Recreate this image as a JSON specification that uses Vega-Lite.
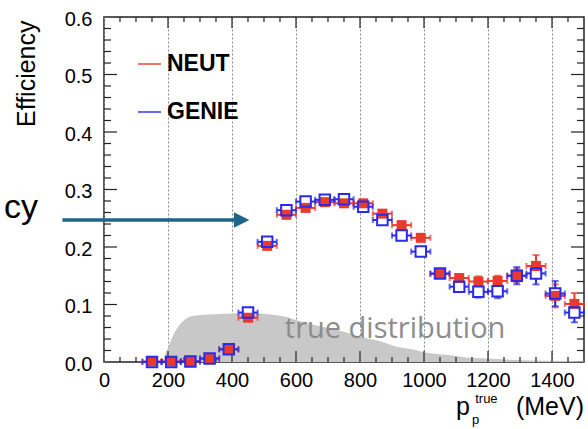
{
  "$schema": "https://vega.github.io/schema/vega-lite/v6.json",
  "width": 480,
  "height": 345,
  "autosize": {"type": "none"},
  "padding": {"left": 104, "top": 17, "right": 4, "bottom": 67},
  "background": "white",
  "config": {
    "view": {"stroke": "#222222", "strokeWidth": 1.5},
    "font": "Liberation Sans",
    "axis": {"labelColor": "black", "labelFont": "Liberation Sans"},
    "legend": {
      "orient": "none", "legendX": 33, "legendY": 34.5, "padding": 0,
      "symbolType": "stroke", "symbolSize": 529, "symbolStrokeWidth": 2,
      "labelFontSize": 23, "labelFontWeight": "bold", "labelColor": "black",
      "labelFont": "Liberation Sans", "labelOffset": 5, "rowPadding": 23
    }
  },
  "resolve": {
    "scale": {"x": "shared", "y": "shared", "color": "shared"},
    "axis": {"x": "independent", "y": "independent"}
  },
  "datasets": {
    "one": [{}],
    "xmaj": [{"v": 200}, {"v": 400}, {"v": 600}, {"v": 800}, {"v": 1000}, {"v": 1200}, {"v": 1400}],
    "xmin": [{"v": 50}, {"v": 100}, {"v": 150}, {"v": 250}, {"v": 300}, {"v": 350}, {"v": 450}, {"v": 500}, {"v": 550}, {"v": 650}, {"v": 700}, {"v": 750}, {"v": 850}, {"v": 900}, {"v": 950}, {"v": 1050}, {"v": 1100}, {"v": 1150}, {"v": 1250}, {"v": 1300}, {"v": 1350}, {"v": 1450}],
    "ymaj": [{"v": 0.1}, {"v": 0.2}, {"v": 0.3}, {"v": 0.4}, {"v": 0.5}],
    "ymin": [{"v": 0.02}, {"v": 0.04}, {"v": 0.06}, {"v": 0.08}, {"v": 0.12}, {"v": 0.14}, {"v": 0.16}, {"v": 0.18}, {"v": 0.22}, {"v": 0.24}, {"v": 0.26}, {"v": 0.28}, {"v": 0.32}, {"v": 0.34}, {"v": 0.36}, {"v": 0.38}, {"v": 0.42}, {"v": 0.44}, {"v": 0.46}, {"v": 0.48}, {"v": 0.52}, {"v": 0.54}, {"v": 0.56}, {"v": 0.58}],
    "truth": [
      {"p": 182, "n": 0}, {"p": 190, "n": 0.012}, {"p": 200, "n": 0.025}, {"p": 214, "n": 0.044},
      {"p": 230, "n": 0.06}, {"p": 245, "n": 0.07}, {"p": 276, "n": 0.08}, {"p": 349, "n": 0.083},
      {"p": 453, "n": 0.085}, {"p": 557, "n": 0.08}, {"p": 600, "n": 0.073}, {"p": 662, "n": 0.064},
      {"p": 703, "n": 0.059}, {"p": 766, "n": 0.05}, {"p": 806, "n": 0.043}, {"p": 870, "n": 0.035},
      {"p": 912, "n": 0.027}, {"p": 974, "n": 0.021}, {"p": 1000, "n": 0.017}, {"p": 1078, "n": 0.012},
      {"p": 1131, "n": 0.008}, {"p": 1182, "n": 0.0064}, {"p": 1287, "n": 0.0035}, {"p": 1391, "n": 0.002},
      {"p": 1500, "n": 0.001}
    ],
    "eff": [
      {"model": "NEUT", "x": 150, "lo": 120, "hi": 180, "e": 0.001, "elo": 0, "ehi": 0.003},
      {"model": "NEUT", "x": 210, "lo": 180, "hi": 240, "e": 0.001, "elo": 0, "ehi": 0.003},
      {"model": "NEUT", "x": 270, "lo": 240, "hi": 300, "e": 0.001, "elo": 0, "ehi": 0.003},
      {"model": "NEUT", "x": 330, "lo": 300, "hi": 360, "e": 0.006, "elo": 0.004, "ehi": 0.008},
      {"model": "NEUT", "x": 390, "lo": 360, "hi": 420, "e": 0.022, "elo": 0.019, "ehi": 0.025},
      {"model": "NEUT", "x": 450, "lo": 420, "hi": 480, "e": 0.077, "elo": 0.073, "ehi": 0.081},
      {"model": "NEUT", "x": 510, "lo": 480, "hi": 540, "e": 0.202, "elo": 0.197, "ehi": 0.207},
      {"model": "NEUT", "x": 570, "lo": 540, "hi": 600, "e": 0.256, "elo": 0.251, "ehi": 0.261},
      {"model": "NEUT", "x": 630, "lo": 600, "hi": 660, "e": 0.268, "elo": 0.263, "ehi": 0.273},
      {"model": "NEUT", "x": 690, "lo": 660, "hi": 720, "e": 0.278, "elo": 0.273, "ehi": 0.283},
      {"model": "NEUT", "x": 750, "lo": 720, "hi": 780, "e": 0.276, "elo": 0.271, "ehi": 0.281},
      {"model": "NEUT", "x": 810, "lo": 780, "hi": 840, "e": 0.276, "elo": 0.271, "ehi": 0.281},
      {"model": "NEUT", "x": 870, "lo": 840, "hi": 900, "e": 0.258, "elo": 0.253, "ehi": 0.263},
      {"model": "NEUT", "x": 930, "lo": 900, "hi": 960, "e": 0.238, "elo": 0.232, "ehi": 0.244},
      {"model": "NEUT", "x": 990, "lo": 960, "hi": 1020, "e": 0.216, "elo": 0.21, "ehi": 0.222},
      {"model": "NEUT", "x": 1050, "lo": 1020, "hi": 1080, "e": 0.153, "elo": 0.147, "ehi": 0.159},
      {"model": "NEUT", "x": 1110, "lo": 1080, "hi": 1140, "e": 0.146, "elo": 0.139, "ehi": 0.153},
      {"model": "NEUT", "x": 1170, "lo": 1140, "hi": 1200, "e": 0.14, "elo": 0.131, "ehi": 0.149},
      {"model": "NEUT", "x": 1230, "lo": 1200, "hi": 1260, "e": 0.141, "elo": 0.132, "ehi": 0.15},
      {"model": "NEUT", "x": 1290, "lo": 1260, "hi": 1320, "e": 0.15, "elo": 0.138, "ehi": 0.162},
      {"model": "NEUT", "x": 1350, "lo": 1320, "hi": 1380, "e": 0.167, "elo": 0.148, "ehi": 0.186},
      {"model": "NEUT", "x": 1410, "lo": 1380, "hi": 1440, "e": 0.115, "elo": 0.095, "ehi": 0.135},
      {"model": "NEUT", "x": 1470, "lo": 1440, "hi": 1500, "e": 0.101, "elo": 0.082, "ehi": 0.12},
      {"model": "GENIE", "x": 150, "lo": 120, "hi": 180, "e": 0.0, "elo": 0, "ehi": 0.002},
      {"model": "GENIE", "x": 210, "lo": 180, "hi": 240, "e": 0.0, "elo": 0, "ehi": 0.002},
      {"model": "GENIE", "x": 270, "lo": 240, "hi": 300, "e": 0.001, "elo": 0, "ehi": 0.003},
      {"model": "GENIE", "x": 330, "lo": 300, "hi": 360, "e": 0.006, "elo": 0.004, "ehi": 0.008},
      {"model": "GENIE", "x": 390, "lo": 360, "hi": 420, "e": 0.022, "elo": 0.019, "ehi": 0.025},
      {"model": "GENIE", "x": 450, "lo": 420, "hi": 480, "e": 0.086, "elo": 0.082, "ehi": 0.09},
      {"model": "GENIE", "x": 510, "lo": 480, "hi": 540, "e": 0.209, "elo": 0.204, "ehi": 0.214},
      {"model": "GENIE", "x": 570, "lo": 540, "hi": 600, "e": 0.264, "elo": 0.259, "ehi": 0.269},
      {"model": "GENIE", "x": 630, "lo": 600, "hi": 660, "e": 0.279, "elo": 0.274, "ehi": 0.284},
      {"model": "GENIE", "x": 690, "lo": 660, "hi": 720, "e": 0.282, "elo": 0.277, "ehi": 0.287},
      {"model": "GENIE", "x": 750, "lo": 720, "hi": 780, "e": 0.283, "elo": 0.278, "ehi": 0.288},
      {"model": "GENIE", "x": 810, "lo": 780, "hi": 840, "e": 0.27, "elo": 0.265, "ehi": 0.275},
      {"model": "GENIE", "x": 870, "lo": 840, "hi": 900, "e": 0.247, "elo": 0.242, "ehi": 0.252},
      {"model": "GENIE", "x": 930, "lo": 900, "hi": 960, "e": 0.22, "elo": 0.214, "ehi": 0.226},
      {"model": "GENIE", "x": 990, "lo": 960, "hi": 1020, "e": 0.192, "elo": 0.186, "ehi": 0.198},
      {"model": "GENIE", "x": 1050, "lo": 1020, "hi": 1080, "e": 0.154, "elo": 0.147, "ehi": 0.161},
      {"model": "GENIE", "x": 1110, "lo": 1080, "hi": 1140, "e": 0.131, "elo": 0.122, "ehi": 0.14},
      {"model": "GENIE", "x": 1170, "lo": 1140, "hi": 1200, "e": 0.122, "elo": 0.112, "ehi": 0.132},
      {"model": "GENIE", "x": 1230, "lo": 1200, "hi": 1260, "e": 0.123, "elo": 0.111, "ehi": 0.135},
      {"model": "GENIE", "x": 1290, "lo": 1260, "hi": 1320, "e": 0.15, "elo": 0.135, "ehi": 0.165},
      {"model": "GENIE", "x": 1350, "lo": 1320, "hi": 1380, "e": 0.154, "elo": 0.135, "ehi": 0.173},
      {"model": "GENIE", "x": 1410, "lo": 1380, "hi": 1440, "e": 0.119, "elo": 0.097, "ehi": 0.141},
      {"model": "GENIE", "x": 1470, "lo": 1440, "hi": 1500, "e": 0.086, "elo": 0.069, "ehi": 0.103}
    ]
  },
  "layer": [
    {
      "data": {"name": "truth"},
      "mark": {"type": "area", "color": "#c8c8c8", "opacity": 1, "interpolate": "monotone"},
      "encoding": {
        "x": {"field": "p", "type": "quantitative", "scale": {"domain": [0, 1500], "nice": false, "zero": false},
          "axis": {"orient": "bottom", "values": [0, 200, 400, 600, 800, 1000, 1200, 1400], "format": "d", "title": null,
            "labelFontSize": 20, "labelPadding": 8, "labelFlush": false, "labelOverlap": false, "ticks": false,
            "domain": false, "grid": true, "gridDash": [2, 2], "gridColor": "#8a8a8a", "gridWidth": 1}},
        "y": {"field": "n", "type": "quantitative", "scale": {"domain": [0, 0.6], "nice": false, "zero": false},
          "axis": {"orient": "left", "values": [0, 0.1, 0.2, 0.3, 0.4, 0.5, 0.6], "format": ".1f",
            "title": "Efficiency", "titleFontSize": 25, "titleFontWeight": "normal", "titleColor": "black", "titleFont": "Liberation Sans",
            "titleAngle": 270, "titleAlign": "right", "titleBaseline": "alphabetic", "titleX": -70, "titleY": 3,
            "labelFontSize": 20, "labelPadding": 12, "labelOffset": 2, "labelFlush": false, "labelOverlap": false,
            "ticks": false, "grid": false, "domain": false}}
      }
    },
    {
      "data": {"name": "one"},
      "mark": {"type": "text", "text": "true distribution", "font": "Open Sans", "fontSize": 29, "color": "#8c8c8c", "align": "left", "baseline": "alphabetic", "clip": false},
      "encoding": {
        "x": {"datum": 565, "type": "quantitative", "axis": null},
        "y": {"datum": 0.0417, "type": "quantitative", "axis": null}
      }
    },
    {
      "data": {"name": "xmaj"},
      "mark": {"type": "tick", "orient": "vertical", "size": 11, "thickness": 1.2, "color": "#222222", "opacity": 1, "yOffset": -5.5},
      "encoding": {"x": {"field": "v", "type": "quantitative", "axis": null}, "y": {"datum": 0, "type": "quantitative", "axis": null}}
    },
    {
      "data": {"name": "xmaj"},
      "mark": {"type": "tick", "orient": "vertical", "size": 11, "thickness": 1.2, "color": "#222222", "opacity": 1, "yOffset": 5.5},
      "encoding": {"x": {"field": "v", "type": "quantitative", "axis": null}, "y": {"datum": 0.6, "type": "quantitative", "axis": null}}
    },
    {
      "data": {"name": "xmin"},
      "mark": {"type": "tick", "orient": "vertical", "size": 5, "thickness": 1.2, "color": "#222222", "opacity": 1, "yOffset": -2.5},
      "encoding": {"x": {"field": "v", "type": "quantitative", "axis": null}, "y": {"datum": 0, "type": "quantitative", "axis": null}}
    },
    {
      "data": {"name": "xmin"},
      "mark": {"type": "tick", "orient": "vertical", "size": 5, "thickness": 1.2, "color": "#222222", "opacity": 1, "yOffset": 2.5},
      "encoding": {"x": {"field": "v", "type": "quantitative", "axis": null}, "y": {"datum": 0.6, "type": "quantitative", "axis": null}}
    },
    {
      "data": {"name": "ymaj"},
      "mark": {"type": "tick", "orient": "horizontal", "size": 13, "thickness": 1.2, "color": "#222222", "opacity": 1, "xOffset": 6.5},
      "encoding": {"y": {"field": "v", "type": "quantitative", "axis": null}, "x": {"datum": 0, "type": "quantitative", "axis": null}}
    },
    {
      "data": {"name": "ymaj"},
      "mark": {"type": "tick", "orient": "horizontal", "size": 13, "thickness": 1.2, "color": "#222222", "opacity": 1, "xOffset": -6.5},
      "encoding": {"y": {"field": "v", "type": "quantitative", "axis": null}, "x": {"datum": 1500, "type": "quantitative", "axis": null}}
    },
    {
      "data": {"name": "ymin"},
      "mark": {"type": "tick", "orient": "horizontal", "size": 7, "thickness": 1.2, "color": "#222222", "opacity": 1, "xOffset": 3.5},
      "encoding": {"y": {"field": "v", "type": "quantitative", "axis": null}, "x": {"datum": 0, "type": "quantitative", "axis": null}}
    },
    {
      "data": {"name": "ymin"},
      "mark": {"type": "tick", "orient": "horizontal", "size": 7, "thickness": 1.2, "color": "#222222", "opacity": 1, "xOffset": -3.5},
      "encoding": {"y": {"field": "v", "type": "quantitative", "axis": null}, "x": {"datum": 1500, "type": "quantitative", "axis": null}}
    },
    {
      "data": {"name": "eff"},
      "transform": [{"filter": {"field": "model", "equal": "NEUT"}}],
      "mark": {"type": "errorbar", "thickness": 2, "ticks": {"size": 6}},
      "encoding": {
        "x": {"field": "lo", "type": "quantitative", "axis": null},
        "x2": {"field": "hi"},
        "y": {"field": "e", "type": "quantitative", "axis": null},
        "color": {"field": "model", "type": "nominal", "title": null, "scale": {"domain": ["NEUT", "GENIE"], "range": ["#ea3a2e", "#2a2ae8"]}}
      }
    },
    {
      "data": {"name": "eff"},
      "transform": [{"filter": {"field": "model", "equal": "NEUT"}}],
      "mark": {"type": "errorbar", "thickness": 2, "ticks": {"size": 7}},
      "encoding": {
        "x": {"field": "x", "type": "quantitative", "axis": null},
        "y": {"field": "elo", "type": "quantitative", "axis": null},
        "y2": {"field": "ehi"},
        "color": {"field": "model", "type": "nominal", "title": null}
      }
    },
    {
      "data": {"name": "eff"},
      "transform": [{"filter": {"field": "model", "equal": "GENIE"}}],
      "mark": {"type": "errorbar", "thickness": 2, "ticks": {"size": 6}},
      "encoding": {
        "x": {"field": "lo", "type": "quantitative", "axis": null},
        "x2": {"field": "hi"},
        "y": {"field": "e", "type": "quantitative", "axis": null},
        "color": {"field": "model", "type": "nominal", "title": null}
      }
    },
    {
      "data": {"name": "eff"},
      "transform": [{"filter": {"field": "model", "equal": "GENIE"}}],
      "mark": {"type": "errorbar", "thickness": 2, "ticks": {"size": 7}},
      "encoding": {
        "x": {"field": "x", "type": "quantitative", "axis": null},
        "y": {"field": "elo", "type": "quantitative", "axis": null},
        "y2": {"field": "ehi"},
        "color": {"field": "model", "type": "nominal", "title": null}
      }
    },
    {
      "data": {"name": "eff"},
      "transform": [{"filter": {"field": "model", "equal": "GENIE"}}],
      "mark": {"type": "point", "shape": "square", "filled": true, "size": 110, "color": "white", "opacity": 1},
      "encoding": {
        "x": {"field": "x", "type": "quantitative", "axis": null},
        "y": {"field": "e", "type": "quantitative", "axis": null}
      }
    },
    {
      "data": {"name": "eff"},
      "transform": [{"filter": {"field": "model", "equal": "NEUT"}}],
      "mark": {"type": "point", "shape": "square", "filled": true, "size": 100, "opacity": 1},
      "encoding": {
        "x": {"field": "x", "type": "quantitative", "axis": null},
        "y": {"field": "e", "type": "quantitative", "axis": null},
        "color": {"field": "model", "type": "nominal", "title": null}
      }
    },
    {
      "data": {"name": "eff"},
      "transform": [{"filter": {"field": "model", "equal": "GENIE"}}],
      "mark": {"type": "point", "shape": "square", "filled": false, "size": 110, "strokeWidth": 2, "opacity": 1},
      "encoding": {
        "x": {"field": "x", "type": "quantitative", "axis": null},
        "y": {"field": "e", "type": "quantitative", "axis": null},
        "color": {"field": "model", "type": "nominal", "title": null}
      }
    },
    {
      "data": {"name": "one"},
      "mark": {"type": "text", "text": "cy", "font": "Liberation Sans", "fontSize": 34, "color": "black", "align": "right", "baseline": "alphabetic", "clip": false},
      "encoding": {
        "x": {"datum": -206, "type": "quantitative", "axis": null},
        "y": {"datum": 0.2504, "type": "quantitative", "axis": null}
      }
    },
    {
      "data": {"name": "one"},
      "mark": {"type": "rule", "color": "#1f6587", "strokeWidth": 3.5, "clip": false},
      "encoding": {
        "x": {"datum": -130, "type": "quantitative", "axis": null},
        "x2": {"datum": 410},
        "y": {"datum": 0.247, "type": "quantitative", "axis": null}
      }
    },
    {
      "data": {"name": "one"},
      "mark": {"type": "point", "shape": "M-1,-1L1,0L-1,1Z", "size": 240, "filled": true, "opacity": 1, "color": "#1f6587", "clip": false},
      "encoding": {
        "x": {"datum": 430, "type": "quantitative", "axis": null},
        "y": {"datum": 0.247, "type": "quantitative", "axis": null}
      }
    },
    {
      "data": {"name": "one"},
      "mark": {"type": "text", "text": "p", "font": "Liberation Sans", "fontSize": 25, "color": "black", "align": "left", "baseline": "alphabetic", "clip": false},
      "encoding": {
        "x": {"datum": 1100, "type": "quantitative", "axis": null},
        "y": {"datum": -0.0922, "type": "quantitative", "axis": null}
      }
    },
    {
      "data": {"name": "one"},
      "mark": {"type": "text", "text": "true", "font": "Liberation Sans", "fontSize": 13, "color": "black", "align": "left", "baseline": "alphabetic", "clip": false},
      "encoding": {
        "x": {"datum": 1160, "type": "quantitative", "axis": null},
        "y": {"datum": -0.072, "type": "quantitative", "axis": null}
      }
    },
    {
      "data": {"name": "one"},
      "mark": {"type": "text", "text": "p", "font": "Liberation Sans", "fontSize": 13, "color": "black", "align": "left", "baseline": "alphabetic", "clip": false},
      "encoding": {
        "x": {"datum": 1150, "type": "quantitative", "axis": null},
        "y": {"datum": -0.108, "type": "quantitative", "axis": null}
      }
    },
    {
      "data": {"name": "one"},
      "mark": {"type": "text", "text": "(MeV)", "font": "Liberation Sans", "fontSize": 25, "color": "black", "align": "right", "baseline": "alphabetic", "clip": false},
      "encoding": {
        "x": {"datum": 1500, "type": "quantitative", "axis": null},
        "y": {"datum": -0.0922, "type": "quantitative", "axis": null}
      }
    }
  ]
}
